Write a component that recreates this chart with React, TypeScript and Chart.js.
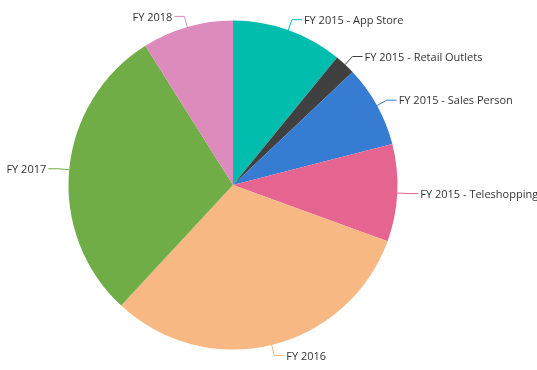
import React, { useEffect, useRef } from "react";
import { Chart, registerables } from "chart.js";

Chart.register(...registerables);

const categories = [
  "FY 2015 - App Store",
  "FY 2015 - Retail Outlets",
  "FY 2015 - Sales Person",
  "FY 2015 - Teleshopping",
  "FY 2016",
  "FY 2017",
  "FY 2018",
];
const values = [10.9, 2.05, 8.05, 9.55, 31.35, 29.15, 8.95];
const colors = ["#00bdae", "#404041", "#357cd2", "#e56590", "#f8b883", "#70ad47", "#dd8abd"];

const labelPlugin = {
  id: "outsideLabels",
  afterDatasetsDraw(chart: any) {
    const ctx = chart.ctx;
    const meta = chart.getDatasetMeta(0);
    ctx.save();
    ctx.font = "11px 'Open Sans', 'Noto Sans', sans-serif";
    ctx.textBaseline = "middle";
    meta.data.forEach((arc: any, i: number) => {
      const { x, y, startAngle, endAngle, outerRadius } = arc.getProps(
        ["x", "y", "startAngle", "endAngle", "outerRadius"],
        true
      );
      const mid = (startAngle + endAngle) / 2;
      const c = Math.cos(mid);
      const s = Math.sin(mid);
      const p0x = x + c * outerRadius;
      const p0y = y + s * outerRadius;
      const p1x = x + c * (outerRadius + 11);
      const p1y = y + s * (outerRadius + 11);
      const dir = c >= 0 ? 1 : -1;
      const p2x = p1x + dir * 10;
      ctx.strokeStyle = colors[i];
      ctx.lineWidth = 1;
      ctx.beginPath();
      ctx.moveTo(p0x, p0y);
      ctx.lineTo(p1x, p1y);
      ctx.lineTo(p2x, p1y);
      ctx.stroke();
      ctx.fillStyle = "#333333";
      ctx.textAlign = dir > 0 ? "left" : "right";
      ctx.fillText(categories[i], p2x + dir * 2, p1y + 1);
    });
    ctx.restore();
  },
};

export default function App() {
  const ref = useRef<HTMLCanvasElement>(null);
  useEffect(() => {
    const chart = new Chart(ref.current!, {
      type: "pie",
      data: {
        labels: categories,
        datasets: [
          {
            data: values,
            backgroundColor: colors,
            borderWidth: 0,
          },
        ],
      },
      options: {
        responsive: false,
        animation: false,
        layout: { padding: { left: 20, right: 91, top: 20.5, bottom: 20.5 } },
        plugins: { legend: { display: false }, tooltip: { enabled: false } },
      },
      plugins: [labelPlugin],
    });
    return () => chart.destroy();
  }, []);
  return (
    <div style={{ position: "absolute", left: 0, top: 0, width: 537, height: 370, background: "#fff" }}>
      <canvas ref={ref} width={537} height={370} />
    </div>
  );
}
